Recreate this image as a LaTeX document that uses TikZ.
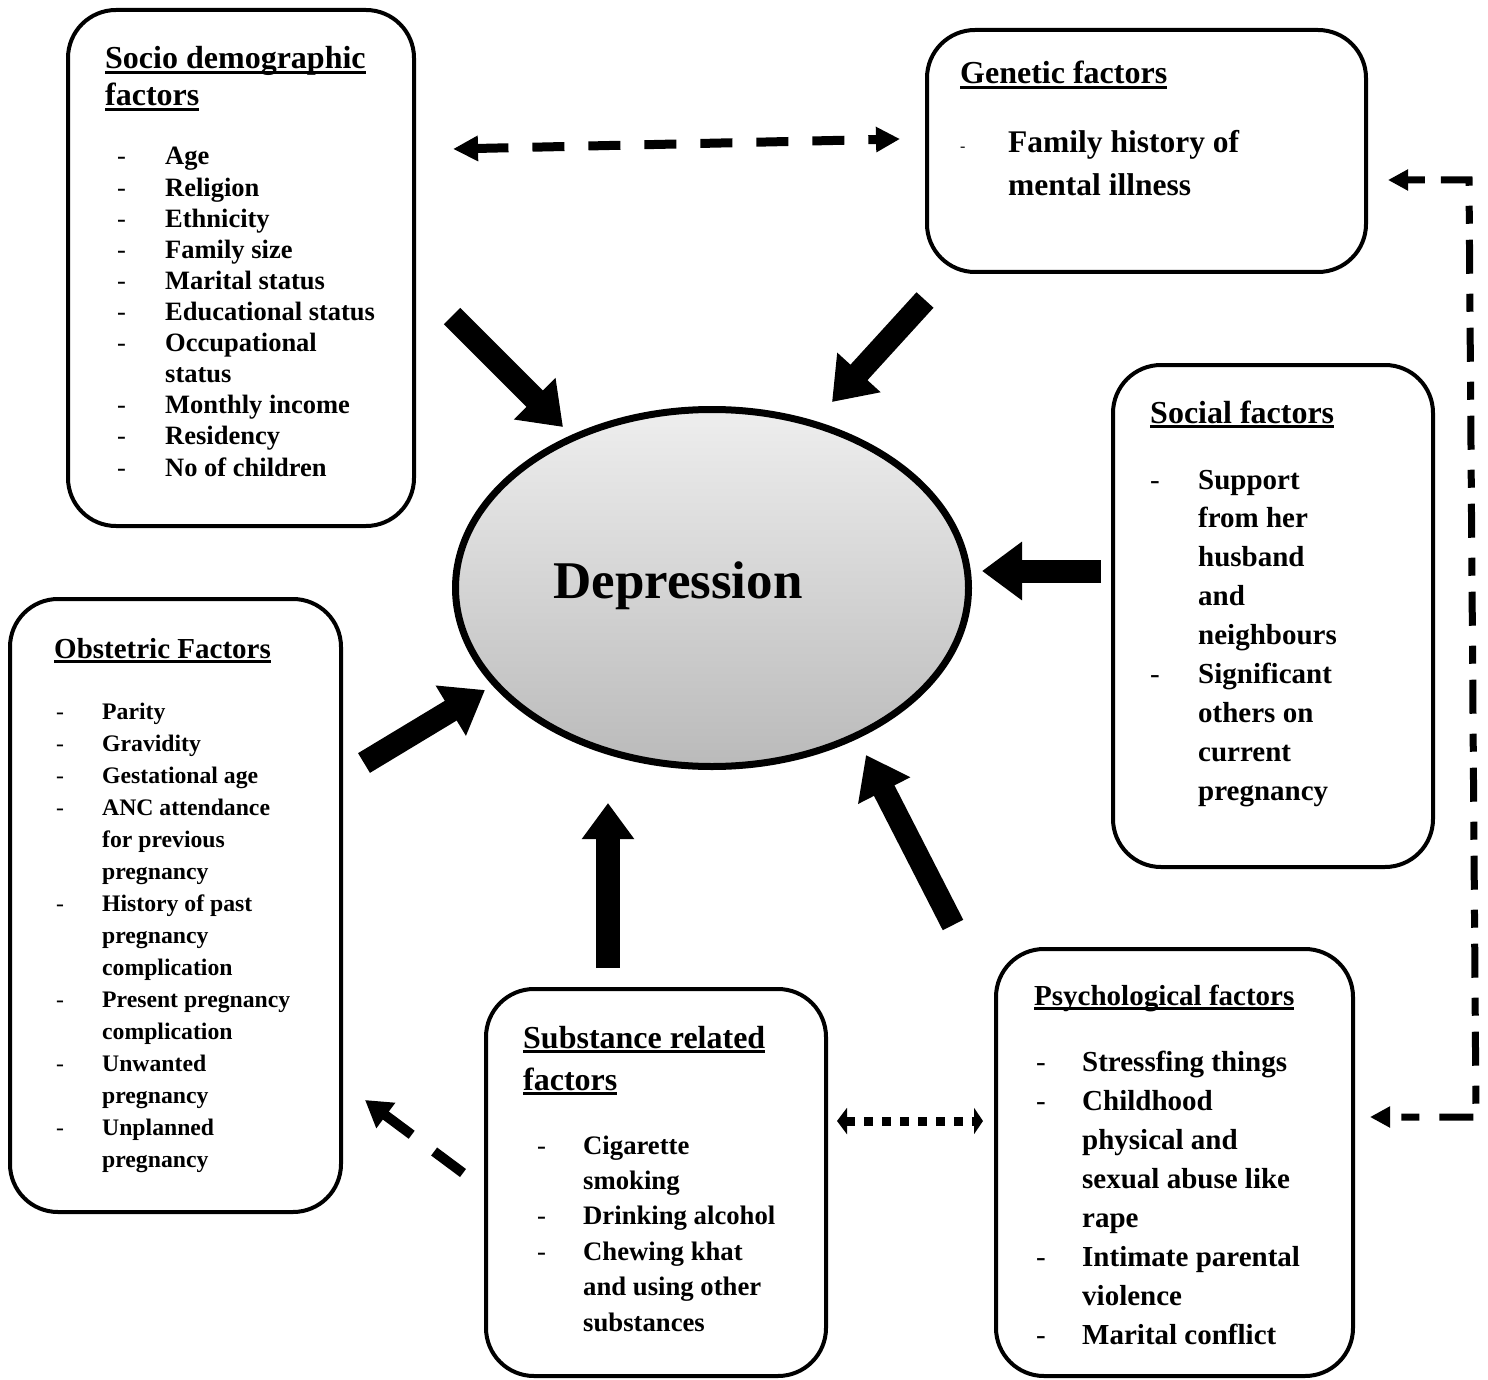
\documentclass[tikz,border=0pt]{standalone}
\usepackage{fontspec}
\setmainfont{Liberation Serif}
\usetikzlibrary{arrows.meta,shapes.geometric,calc}
\definecolor{depTop}{RGB}{238,238,238}
\definecolor{depBot}{RGB}{186,186,186}
\newcommand\ulhdr[1]{\setbox0=\hbox{#1}\rlap{\rule[-5pt]{\wd0}{3pt}}\box0}
\begin{document}
\begin{tikzpicture}[x=1pt,y=-1pt,
  box/.style={draw, line width=4pt, rounded corners=48pt, inner sep=0pt, outer sep=0pt},
  hdr/.style={anchor=base west, inner sep=0pt, font=\bfseries\fontsize{#1}{#1}\selectfont},
  itm/.style={anchor=base west, inner sep=0pt, font=\bfseries\fontsize{#1}{#1}\selectfont},
  dsh/.style={anchor=base west, inner sep=0pt, font=\fontsize{#1}{#1}\selectfont},
  bigarr/.style={line width=23pt, -{Triangle[length=40pt,width=56pt]}},
  dashline/.style={line width=9pt, dash pattern=on 32pt off 24pt},
]
\useasboundingbox (0,0) rectangle (1488,1380);

% ---------- boxes ----------
\node[box, minimum width=346pt, minimum height=516pt] (socio) at (241,268) {};
\node[box, minimum width=439pt, minimum height=242pt] (genetic) at (1146.5,151) {};
\node[box, minimum width=320pt, minimum height=502pt] (social) at (1273,616) {};
\node[box, minimum width=331pt, minimum height=613pt] (obst) at (175.5,905.5) {};
\node[box, minimum width=340pt, minimum height=387pt] (subst) at (656,1182.5) {};
\node[box, minimum width=357pt, minimum height=427pt] (psych) at (1174.5,1162.5) {};

% ---------- ellipse ----------
\node[ellipse, draw, line width=7pt, minimum width=513pt, minimum height=357pt,
      top color=depTop, bottom color=depBot, inner sep=0pt] (dep) at (712,588) {};
\node[anchor=base, inner sep=0pt, font=\bfseries\fontsize{53}{53}\selectfont] (deplbl) at (678,598) {Depression};

% ---------- Socio demographic ----------
\node[hdr=32] (sochA) at (105,69) {\ulhdr{Socio demographic}};
\node[hdr=32] (sochB) at (105,106) {\ulhdr{factors}};
\foreach \t [count=\i from 0] in {Age,Religion,Ethnicity,Family size,Marital status,Educational status,Occupational,status,Monthly income,Residency,No of children}
  \node[itm=26.5, name=soc\i] at (165,{165+31.1*\i}) {\t};
\foreach \k in {0,1,2,3,4,5,6,8,9,10}
  \node[dsh=26.5, name=socd\k] at (117,{165+31.1*\k}) {-};

% ---------- Genetic ----------
\node[hdr=32] (genh) at (960,84) {\ulhdr{Genetic factors}};
\node[itm=31.5] (gen0) at (1008,153) {Family history of};
\node[itm=31.5] (gen1) at (1008,196) {mental illness};
\node[dsh=16] (gend0) at (960,152) {-};

% ---------- Social ----------
\node[hdr=32] (socialh) at (1150,423) {\ulhdr{Social factors}};
\foreach \t [count=\i from 0] in {Support,from her,husband,and,neighbours,Significant,others on,current,pregnancy}
  \node[itm=29, name=sf\i] at (1198,{489+38.9*\i}) {\t};
\foreach \k in {0,5}
  \node[dsh=29, name=sfd\k] at (1150,{489+38.9*\k}) {-};

% ---------- Obstetric ----------
\node[hdr=29] (obsh) at (54,658) {\ulhdr{Obstetric Factors}};
\foreach \t [count=\i from 0] in {Parity,Gravidity,Gestational age,ANC attendance,for previous,pregnancy,History of past,pregnancy,complication,Present pregnancy,complication,Unwanted,pregnancy,Unplanned,pregnancy}
  \node[itm=23.7, name=ob\i] at (102,{719+32*\i}) {\t};
\foreach \k in {0,1,2,3,6,9,11,13}
  \node[dsh=23.7, name=obd\k] at (56,{719+32*\k}) {-};

% ---------- Substance ----------
\node[hdr=32] (subhA) at (523,1048) {\ulhdr{Substance related}};
\node[hdr=32] (subhB) at (523,1090) {\ulhdr{factors}};
\foreach \t [count=\i from 0] in {Cigarette,smoking,Drinking alcohol,Chewing khat,and using other,substances}
  \node[itm=26.7, name=sb\i] at (583,{1154+35.4*\i}) {\t};
\foreach \k in {0,2,3}
  \node[dsh=26.7, name=sbd\k] at (537,{1154+35.4*\k}) {-};

% ---------- Psychological ----------
\node[hdr=29] (psyh) at (1034,1005) {\ulhdr{Psychological factors}};
\foreach \t [count=\i from 0] in {Stressfing things,Childhood,physical and,sexual abuse like,rape,Intimate parental,violence,Marital conflict}
  \node[itm=29, name=ps\i] at (1082,{1071+39.1*\i}) {\t};
\foreach \k in {0,1,5,7}
  \node[dsh=29, name=psd\k] at (1036,{1071+39.1*\k}) {-};

% ---------- block arrows ----------
\coordinate (a1s) at (452,316);  \coordinate (a1e) at (563,427);
\coordinate (a2s) at (925,300);  \coordinate (a2e) at (832,402);
\coordinate (a3s) at (1101,571); \coordinate (a3e) at (982,571);
\coordinate (a4s) at (364,763);  \coordinate (a4e) at (485,690);
\coordinate (a5s) at (608,968);  \coordinate (a5e) at (608,803);
\coordinate (a6s) at (953,925);  \coordinate (a6e) at (866,755);
\draw[bigarr] (a1s) -- (a1e);
\draw[bigarr] (a2s) -- (a2e);
\draw[bigarr] (a3s) -- (a3e);
\draw[bigarr] (a4s) -- (a4e);
\draw[line width=24pt, -{Triangle[length=36pt,width=50pt]}] (a5s) -- (a5e);
\draw[bigarr] (a6s) -- (a6e);

% ---------- dashed connectors ----------
\coordinate (d1s) at (453,149); \coordinate (d1e) at (900,139);
\draw[dashline, {Triangle[length=25pt,width=24pt]}-{Triangle[length=24pt,width=24pt]}] (d1s) -- (d1e);

\coordinate (d2s) at (463,1173); \coordinate (d2e) at (365,1100);
\draw[line width=10pt, dash pattern=on 36pt off 28pt, -{Triangle[length=26pt,width=30pt]}] (d2s) -- (d2e);

\coordinate (d3s) at (837,1121); \coordinate (d3e) at (983,1121);
\draw[line width=9pt, dash pattern=on 9pt off 9pt, {Triangle[length=10pt,width=26pt]}-{Triangle[length=9pt,width=26pt]}] (d3s) -- (d3e);

\coordinate (r1) at (1388,180); \coordinate (r2) at (1469,180);
\coordinate (r3) at (1476,1117); \coordinate (r4) at (1370,1117);
\draw[line width=7pt, dash pattern=on 18pt off 16pt on 34pt off 20pt, line join=miter,
      {Triangle[length=20pt,width=20pt]}-{Triangle[length=20pt,width=20pt]}] (r1) -- (r2) -- (r3) -- (r4);
\end{tikzpicture}
\end{document}
